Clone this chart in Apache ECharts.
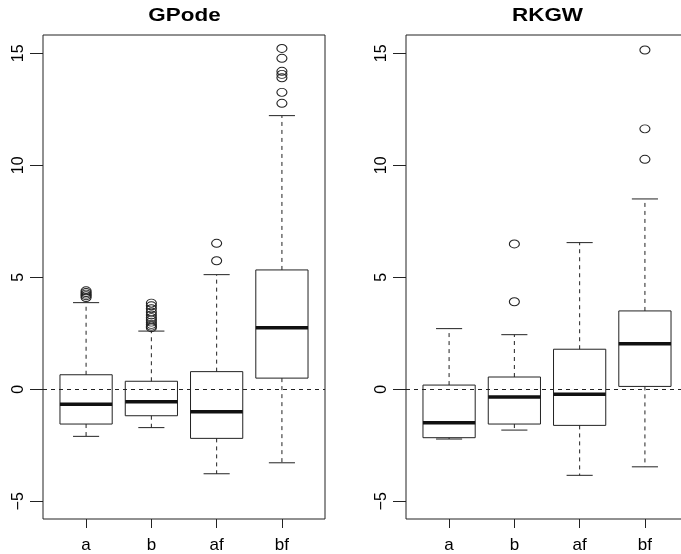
<!DOCTYPE html>
<html>
<head>
<meta charset="utf-8">
<script src="https://cdn.jsdelivr.net/npm/echarts@6/dist/echarts.min.js"></script>
<style>
  html, body { margin: 0; padding: 0; background: #fff; }
  #chart { width: 681px; height: 554px; }
</style>
</head>
<body>
<div id="chart"></div>
<script>
// Groups shown on the horizontal axis (positions 1..4)
const categories = ['a', 'b', 'af', 'bf'];
const categoryPos = [1, 2, 3, 4];
const yTicks = [-5, 0, 5, 10, 15];

// Five-number summaries per group: [lower whisker, Q1, median, Q3, upper whisker]
const gpodeStats = [
  [-2.10, -1.55, -0.67, 0.65, 3.87],
  [-1.71, -1.18, -0.55, 0.36, 2.60],
  [-3.77, -2.19, -1.00, 0.79, 5.12],
  [-3.28, 0.50, 2.75, 5.33, 12.22]
];
const rkgwStats = [
  [-2.22, -2.16, -1.49, 0.19, 2.71],
  [-1.82, -1.55, -0.34, 0.55, 2.44],
  [-3.84, -1.61, -0.22, 1.79, 6.55],
  [-3.46, 0.13, 2.04, 3.50, 8.50]
];

// Points beyond the whiskers, per group
const gpodeOutliers = [
  [4.10, 4.18, 4.25, 4.32, 4.40],
  [2.75, 2.82, 2.90, 3.00, 3.10, 3.20, 3.32, 3.45, 3.60, 3.73, 3.85],
  [5.74, 6.52],
  [12.77, 13.26, 13.91, 14.06, 14.20, 14.78, 15.22]
];
const rkgwOutliers = [
  [],
  [3.91, 6.49],
  [],
  [10.27, 11.63, 15.15]
];

const INK = '#222';
const X_MIN = 0.34, X_MAX = 4.66;
const Y_MIN = -5.79, Y_MAX = 15.82;

function boxData(stats) {
  return stats.map((s, i) => [categoryPos[i]].concat(s));
}
function outlierData(outs) {
  const pts = [];
  outs.forEach((vals, i) => vals.forEach(v => pts.push([categoryPos[i], v])));
  return pts;
}

// Draws one box: dashed whiskers with caps, open rectangle, thick median
function renderBox(params, api) {
  const x = api.value(0);
  const pMin = api.coord([x, api.value(1)]);
  const pQ1 = api.coord([x, api.value(2)]);
  const pMed = api.coord([x, api.value(3)]);
  const pQ3 = api.coord([x, api.value(4)]);
  const pMax = api.coord([x, api.value(5)]);
  const halfBox = api.size([0.8, 0])[0] / 2;
  const halfCap = halfBox / 2;
  const cx = pMed[0];
  const solid = { stroke: INK, lineWidth: 1, fill: null };
  const dashed = { stroke: INK, lineWidth: 1, lineDash: [4, 4], fill: null };
  return {
    type: 'group',
    children: [
      { type: 'line', shape: { x1: cx, y1: pQ3[1], x2: cx, y2: pMax[1] }, style: dashed },
      { type: 'line', shape: { x1: cx, y1: pQ1[1], x2: cx, y2: pMin[1] }, style: dashed },
      { type: 'line', shape: { x1: cx - halfCap, y1: pMax[1], x2: cx + halfCap, y2: pMax[1] }, style: solid },
      { type: 'line', shape: { x1: cx - halfCap, y1: pMin[1], x2: cx + halfCap, y2: pMin[1] }, style: solid },
      { type: 'rect', shape: { x: cx - halfBox, y: pQ3[1], width: halfBox * 2, height: pQ1[1] - pQ3[1] }, style: solid },
      { type: 'line', shape: { x1: cx - halfBox, y1: pMed[1], x2: cx + halfBox, y2: pMed[1] }, style: { stroke: '#111', lineWidth: 3.5 } }
    ]
  };
}

function xAxisFor(gridIndex) {
  return {
    type: 'value', gridIndex: gridIndex, min: X_MIN, max: X_MAX, position: 'bottom',
    axisLine: { show: false, onZero: false },
    splitLine: { show: false },
    axisTick: { show: true, customValues: categoryPos, length: 9, lineStyle: { color: INK } },
    axisLabel: {
      customValues: categoryPos, margin: 18, color: '#000',
      fontFamily: 'Liberation Sans', fontSize: 17,
      formatter: v => categories[Math.round(v) - 1]
    }
  };
}
function yAxisFor(gridIndex) {
  return {
    type: 'value', gridIndex: gridIndex, min: Y_MIN, max: Y_MAX, position: 'left',
    axisLine: { show: false, onZero: false },
    splitLine: { show: false },
    axisTick: { show: true, customValues: yTicks, length: 13, lineStyle: { color: INK } },
    axisLabel: {
      customValues: yTicks, rotate: 90, margin: 16, color: '#000',
      fontFamily: 'Liberation Sans', fontSize: 16,
      formatter: v => String(v).replace('-', '\u2212')
    }
  };
}

function panelSeries(idx, stats, outs) {
  return [
    {
      type: 'custom', xAxisIndex: idx, yAxisIndex: idx,
      renderItem: renderBox, data: boxData(stats), z: 3
    },
    {
      type: 'scatter', xAxisIndex: idx, yAxisIndex: idx,
      symbol: 'circle', symbolSize: [10, 8],
      itemStyle: { color: 'transparent', borderColor: INK, borderWidth: 1, opacity: 1 },
      data: outlierData(outs), z: 4,
      markLine: {
        silent: true, symbol: 'none', label: { show: false },
        lineStyle: { type: [4, 4], color: INK, width: 1 },
        data: [{ yAxis: 0 }]
      }
    }
  ];
}

function panelTitle(text, cx) {
  return {
    type: 'text', x: cx, y: 16, scaleX: 1.18,
    style: {
      text: text, font: 'bold 19px "Liberation Sans"', fill: '#000',
      align: 'center', verticalAlign: 'middle'
    }
  };
}

const chart = echarts.init(document.getElementById('chart'), null, { renderer: 'canvas' });
chart.setOption({
  animation: false,
  backgroundColor: '#fff',
  grid: [
    { left: 43, top: 35, width: 282, height: 484, outerBoundsMode: 'none', show: true, borderColor: INK, borderWidth: 1, backgroundColor: 'transparent' },
    { left: 406, top: 35, width: 282, height: 484, outerBoundsMode: 'none', show: true, borderColor: INK, borderWidth: 1, backgroundColor: 'transparent' }
  ],
  xAxis: [xAxisFor(0), xAxisFor(1)],
  yAxis: [yAxisFor(0), yAxisFor(1)],
  graphic: [panelTitle('GPode', 184.5), panelTitle('RKGW', 547.5)],
  series: panelSeries(0, gpodeStats, gpodeOutliers).concat(panelSeries(1, rkgwStats, rkgwOutliers))
});
</script>
</body>
</html>
